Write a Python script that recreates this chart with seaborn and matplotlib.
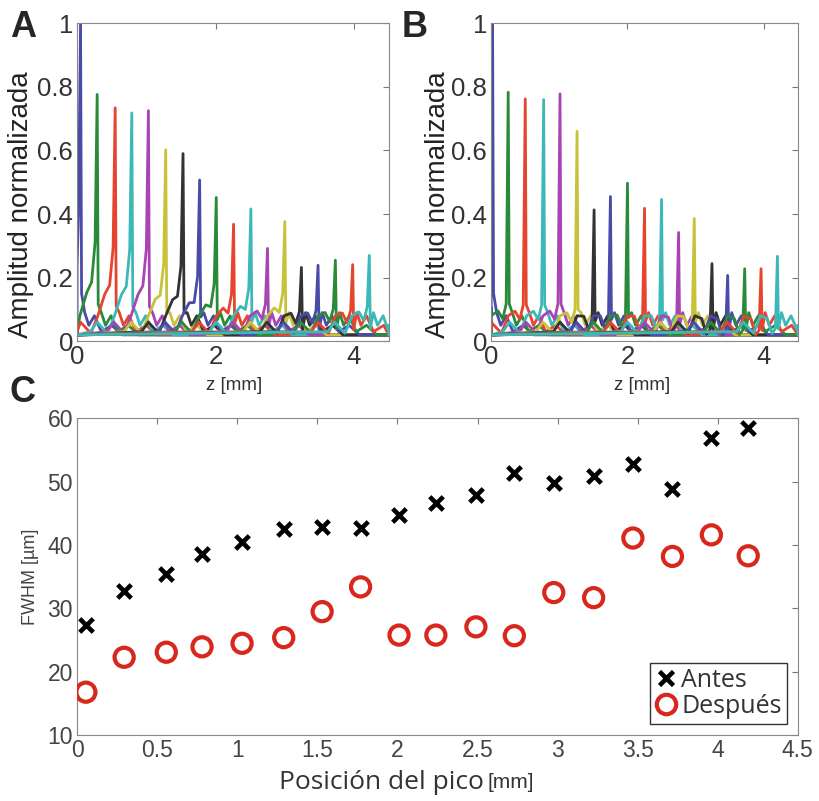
import matplotlib
matplotlib.use("Agg")
import matplotlib.pyplot as plt
from matplotlib.lines import Line2D
import numpy as np
import pandas as pd
import seaborn as sns

# ---- datos ----
# posiciones y alturas de los picos (paneles A y B)
pos_a = [0.05, 0.29, 0.55, 0.79, 1.03, 1.28, 1.53, 1.77, 2.01, 2.26, 2.51, 2.75, 3.0, 3.24, 3.48, 3.73, 3.98, 4.22]
amp_a = [1.0, 0.776, 0.734, 0.718, 0.725, 0.602, 0.59, 0.507, 0.452, 0.368, 0.416, 0.292, 0.376, 0.232, 0.239, 0.255, 0.241, 0.27]
pos_b = [0.02, 0.25, 0.50, 0.77, 1.01, 1.26, 1.51, 1.75, 2.0, 2.25, 2.5, 2.75, 2.98, 3.24, 3.47, 3.72, 3.96, 4.2]
amp_b = [1.0, 0.783, 0.762, 0.76, 0.778, 0.66, 0.413, 0.455, 0.497, 0.418, 0.446, 0.342, 0.386, 0.244, 0.207, 0.228, 0.228, 0.267]

# panel C
pico = [0.055, 0.294, 0.557, 0.78, 1.03, 1.29, 1.53, 1.77, 2.01, 2.24, 2.49, 2.73, 2.976, 3.225, 3.47, 3.717, 3.96, 4.19]
fwhm_antes = [27.4, 32.7, 35.5, 38.6, 40.5, 42.5, 42.9, 42.7, 44.8, 46.6, 47.9, 51.3, 49.8, 50.8, 52.8, 48.9, 56.8, 58.4]
fwhm_despues = [16.8, 22.3, 23.1, 23.95, 24.5, 25.4, 29.5, 33.4, 25.8, 25.8, 27.1, 25.7, 32.5, 31.7, 41.1, 38.2, 41.6, 38.3]

# colores de matlab (algo apagados como en la figura)
colores = ["#4a4aa8", "#2a8a3a", "#e5442e", "#3cb8b8", "#a844b4", "#c8c23a", "#333333"]

sns.set_style("white")
plt.rcParams["font.family"] = ["Liberation Sans", "DejaVu Sans"]

fig = plt.figure(figsize=(8.2, 8.01), dpi=100)
axA = fig.add_axes([0.094, 0.574, 0.380, 0.397])
axB = fig.add_axes([0.599, 0.574, 0.374, 0.397])
axC = fig.add_axes([0.094, 0.082, 0.879, 0.396])


def traza(p, h, hombro):
    # forma del pico: falda a la izquierda, caida rapida a la derecha y algo de ruido de fondo
    xs = [0.0, p - 0.6, p - 0.5, p - 0.35, p - 0.25, p - 0.15, p - 0.08, p - 0.03, p,
          p + 0.015, p + 0.06, p + 0.12, p + 0.2, p + 0.3, p + 0.45, p + 0.6, 4.5]
    ys = [0.02, 0.03, 0.06, 0.025, 0.08, 0.06 + hombro * h * 0.3, hombro * h * 0.6, hombro * h, h,
          0.15 * h, 0.09, 0.05, 0.08, 0.03, 0.05, 0.02, 0.02]
    xs = np.clip(xs, 0, 4.5)
    return xs, ys


def panel(ax, pos, amp, hombro, xlab):
    for i in range(len(pos)):
        xs, ys = traza(pos[i], amp[i], hombro)
        d = pd.DataFrame({"z": xs, "a": ys})
        sns.lineplot(data=d, x="z", y="a", ax=ax, color=colores[i % 7],
                     lw=2.0, sort=False, estimator=None)
    ax.set_xlim(0, 4.5)
    ax.set_ylim(0, 1)
    ax.set_xticks([0, 2, 4])
    ax.set_xticklabels(["0", "2", "4"])
    ax.set_yticks([0, 0.2, 0.4, 0.6, 0.8, 1])
    ax.set_yticklabels(["0", "0.2", "0.4", "0.6", "0.8", "1"])
    ax.set_xlabel("")
    ax.set_ylabel("Amplitud normalizada", fontsize=20, color="#222222")
    ax.yaxis.set_label_coords(xlab, 0.43)
    ax.tick_params(labelsize=18.5, labelcolor="#333333", direction="in", length=4,
                   top=True, right=True, color="#777777", pad=3)
    for s in ax.spines.values():
        s.set_color("#888888")


panel(axA, pos_a, amp_a, 0.4, -0.138)
panel(axB, pos_b, amp_b, 0.15, -0.132)

fig.text(0.285, 0.519, "z [mm]", fontsize=13.5, color="#333333", ha="center", va="center")
fig.text(0.783, 0.519, "z [mm]", fontsize=13.5, color="#333333", ha="center", va="center")

# panel C
sns.scatterplot(x=pico, y=fwhm_antes, ax=axC, marker="x", s=95, linewidth=3.3,
                color="black", zorder=3)
sns.scatterplot(x=pico, y=fwhm_despues, ax=axC, marker="o", s=190, linewidth=3,
                facecolor="none", edgecolor="#d8281e", zorder=3)
axC.set_xlim(0, 4.5)
axC.set_ylim(10, 60)
axC.set_xticks(np.arange(0, 4.6, 0.5))
axC.set_xticklabels(["0", "0.5", "1", "1.5", "2", "2.5", "3", "3.5", "4", "4.5"])
axC.set_yticks([10, 20, 30, 40, 50, 60])
axC.tick_params(labelsize=16.5, labelcolor="#444444", direction="in", length=4,
                top=True, right=True, color="#777777", pad=3)
for s in axC.spines.values():
    s.set_color("#888888")
axC.set_ylabel("FWHM [µm]", fontsize=13, color="#444444", labelpad=6)
axC.set_xlabel("")
fig.text(0.590, 0.0225, "Posición del pico", fontsize=19, color="#333333", ha="right",
         va="center", family=["Open Sans", "DejaVu Sans"])
fig.text(0.594, 0.0225, "[mm]", fontsize=15, color="#333333", ha="left", va="center")

h1 = Line2D([], [], ls="none", marker="x", ms=10, mew=3.3, color="black")
h2 = Line2D([], [], ls="none", marker="o", ms=14, mew=3, mfc="none", mec="#d8281e")
leg = axC.legend([h1, h2], ["Antes", "Después"], loc="lower right",
                 frameon=True, fancybox=False, edgecolor="#333333", framealpha=1,
                 handlelength=0.9, handletextpad=0.15, borderpad=0.2,
                 labelspacing=0.05, borderaxespad=0.45,
                 prop={"family": ["Open Sans", "DejaVu Sans"], "size": 18})
leg.get_frame().set_linewidth(1.0)
for t in leg.get_texts():
    t.set_color("#333333")

# letras de los paneles
fig.text(0.012, 0.987, "A", fontsize=26, fontweight="bold", va="top")
fig.text(0.490, 0.987, "B", fontsize=26, fontweight="bold", va="top")
fig.text(0.012, 0.532, "C", fontsize=26, fontweight="bold", va="top")

fig.savefig("out.png", dpi=100)
